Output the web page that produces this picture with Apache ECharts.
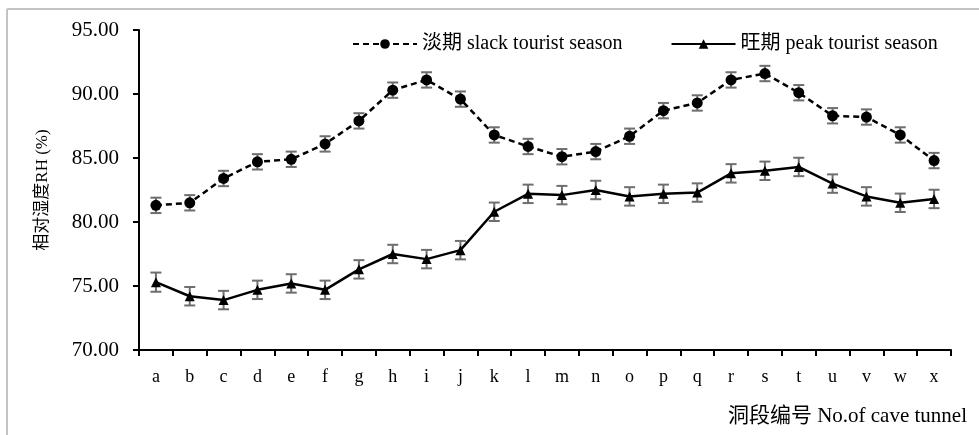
<!DOCTYPE html>
<html>
<head>
<meta charset="utf-8">
<script src="https://cdn.jsdelivr.net/npm/echarts@6/dist/echarts.min.js"></script>
<style>
  html, body { margin: 0; padding: 0; background: #fff; }
  #chart { width: 979px; height: 435px; }
</style>
</head>
<body>
<div id="chart"></div>
<script>
// Cave tunnel sections
const categories = ['a','b','c','d','e','f','g','h','i','j','k','l','m','n','o','p','q','r','s','t','u','v','w','x'];

// Relative humidity (%) in the slack season, with standard errors
const slackRH = [81.3, 81.5, 83.4, 84.7, 84.9, 86.1, 87.9, 90.3, 91.1, 89.6, 86.8, 85.9, 85.1, 85.5, 86.7, 88.7, 89.3, 91.1, 91.6, 90.1, 88.3, 88.2, 86.8, 84.8];
const slackErr = [0.6, 0.6, 0.6, 0.6, 0.6, 0.6, 0.6, 0.6, 0.6, 0.6, 0.6, 0.6, 0.6, 0.6, 0.6, 0.6, 0.6, 0.6, 0.6, 0.6, 0.6, 0.6, 0.6, 0.6];

// Relative humidity (%) in the peak season, with standard errors
const peakRH = [75.3, 74.2, 73.9, 74.7, 75.2, 74.7, 76.3, 77.5, 77.1, 77.8, 80.8, 82.2, 82.1, 82.5, 82.0, 82.2, 82.3, 83.8, 84.0, 84.3, 83.0, 82.0, 81.5, 81.8];
const peakErr = [0.75, 0.72, 0.72, 0.72, 0.72, 0.72, 0.72, 0.72, 0.72, 0.72, 0.72, 0.72, 0.72, 0.72, 0.72, 0.72, 0.72, 0.72, 0.72, 0.72, 0.72, 0.72, 0.72, 0.72];

// Y axis ticks
const yMin = 70, yMax = 95, yStep = 5;

const serif = '"Liberation Serif", "Noto Sans CJK SC", serif';

function errorSeries(values, errs) {
  return {
    type: 'custom',
    silent: true,
    z: 1,
    data: values.map((v, i) => [i, v - errs[i], v + errs[i]]),
    renderItem: function (params, api) {
      const x = api.value(0);
      const lo = api.coord([x, api.value(1)]);
      const hi = api.coord([x, api.value(2)]);
      const w = 5.5;
      const style = { stroke: '#6e6e6e', lineWidth: 2 };
      return {
        type: 'group',
        children: [
          { type: 'line', shape: { x1: lo[0], y1: lo[1], x2: hi[0], y2: hi[1] }, style: style },
          { type: 'line', shape: { x1: lo[0] - w, y1: lo[1], x2: lo[0] + w, y2: lo[1] }, style: style },
          { type: 'line', shape: { x1: hi[0] - w, y1: hi[1], x2: hi[0] + w, y2: hi[1] }, style: style }
        ]
      };
    }
  };
}

const chart = echarts.init(document.getElementById('chart'), null, { renderer: 'canvas' });

chart.setOption({
  animation: false,
  backgroundColor: '#fff',
  grid: { left: 139, right: 28, top: 30, bottom: 85 },
  legend: {
    top: 29,
    left: 347,
    itemWidth: 64,
    itemHeight: 12,
    itemGap: 48,
    textStyle: { fontFamily: serif, fontSize: 20, color: '#000' },
    data: ['淡期 slack tourist season', '旺期 peak tourist season']
  },
  xAxis: {
    type: 'category',
    data: categories,
    boundaryGap: true,
    axisLine: { lineStyle: { color: '#000', width: 2 } },
    axisTick: { show: true, interval: 0, length: 6, inside: false, lineStyle: { color: '#000', width: 2 } },
    axisLabel: { interval: 0, margin: 18, fontFamily: serif, fontSize: 18, color: '#000' },
    splitLine: { show: false }
  },
  yAxis: {
    type: 'value',
    min: yMin,
    max: yMax,
    interval: yStep,
    name: '相对湿度RH (%)',
    nameLocation: 'middle',
    nameGap: 88,
    nameTextStyle: { fontFamily: serif, fontSize: 17, color: '#000' },
    axisLine: { show: true, lineStyle: { color: '#000', width: 2 } },
    axisTick: { show: true, length: 6, lineStyle: { color: '#000', width: 2 } },
    axisLabel: {
      margin: 20, fontFamily: serif, fontSize: 21, color: '#000',
      formatter: v => v.toFixed(2)
    },
    splitLine: { show: false }
  },
  graphic: [
    { type: 'line', shape: { x1: 7, y1: 9, x2: 979, y2: 9 }, style: { stroke: '#c4c4c4', lineWidth: 2 } },
    { type: 'line', shape: { x1: 7, y1: 9, x2: 7, y2: 435 }, style: { stroke: '#c4c4c4', lineWidth: 2 } },
    {
      type: 'text', right: 12, top: 406,
      style: { text: '洞段编号 No.of cave tunnel', font: '21px "Liberation Serif", "Noto Sans CJK SC", serif', fill: '#000' }
    }
  ],
  series: [
    errorSeries(slackRH, slackErr),
    errorSeries(peakRH, peakErr),
    {
      name: '淡期 slack tourist season',
      type: 'line',
      z: 3,
      data: slackRH,
      symbol: 'circle',
      symbolSize: 11,
      itemStyle: { color: '#000' },
      lineStyle: { color: '#000', width: 2.5, type: [6, 4] }
    },
    {
      name: '旺期 peak tourist season',
      type: 'line',
      z: 3,
      data: peakRH,
      symbol: 'triangle',
      symbolSize: 10,
      itemStyle: { color: '#000' },
      lineStyle: { color: '#000', width: 2.5, type: 'solid' }
    }
  ]
});
</script>
</body>
</html>
